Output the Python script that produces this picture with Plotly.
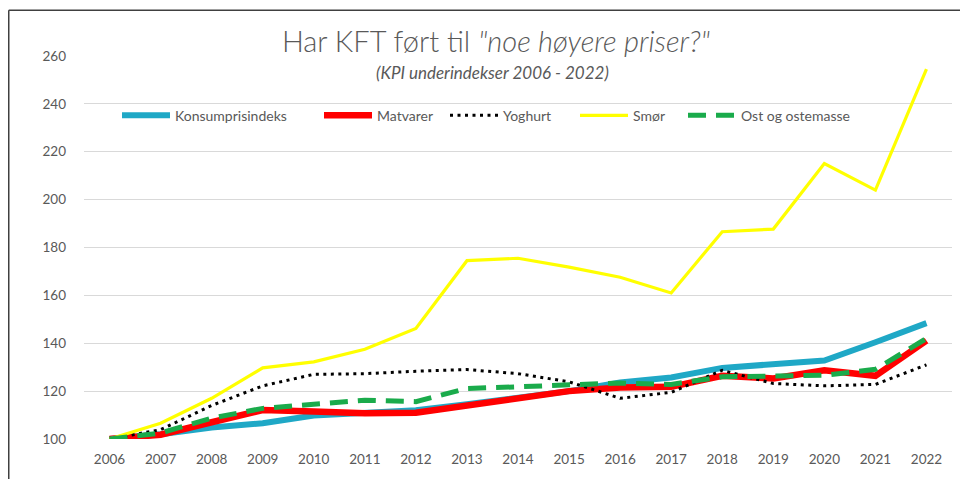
import plotly.graph_objects as go

years = list(range(2006, 2023))
tick_labels = [str(y) for y in years]

konsumprisindeks = [100, 102, 104.8, 106.6, 109.8, 110.6, 112, 114.5, 117, 120, 123.6, 125.7, 129.7, 131.5, 132.8, 140.4, 148.4]
matvarer = [100, 101.8, 107, 112.1, 111.5, 110.8, 111, 114, 117, 120, 121.5, 121.8, 126.4, 125.3, 128.7, 126.4, 141.1]
yoghurt = [100, 103.9, 114, 122.2, 127, 127.3, 128.3, 129, 127.3, 123.9, 117, 119.5, 128.7, 123.2, 122.2, 122.8, 131]
smor = [100, 106.6, 117, 129.7, 132.2, 137.5, 146.2, 174.5, 175.5, 171.8, 167.6, 161, 186.6, 187.7, 215.1, 204, 254.5]
ost = [100, 102.5, 108.7, 112.8, 114.5, 116.2, 115.6, 121.1, 121.8, 122.8, 123.4, 122.8, 126, 126.3, 126.6, 129.1, 142]

# page body has an 8px margin; figure coordinates = screen coordinates - 8
OFF = 8
W, H = 968 - OFF, 479 - OFF
ML, MT = 84 - OFF, 56 - OFF
MR = W - (952 - OFF)
MB = H - (441 - OFF)
PW, PH = W - ML - MR, H - MT - MB

def px_x(px):
    return (px - OFF - ML) / PW

def px_y(py):
    return (H + OFF - MB - py) / PH

series = [
    ("Konsumprisindeks", konsumprisindeks, dict(color="#1FA8C6", width=6), "legend", 122),
    ("Matvarer", matvarer, dict(color="#FF0000", width=6.5), "legend2", 324),
    ("Yoghurt", yoghurt, dict(color="#000000", width=3, dash="3px,4.5px"), "legend3", 450),
    ("Smør", smor, dict(color="#FFFF00", width=3.2), "legend4", 580),
    ("Ost og ostemasse", ost, dict(color="#1AAB4B", width=5, dash="18px,10px"), "legend5", 688),
]

fig = go.Figure()
legend_layouts = {}
for name, vals, line, leg, lx in series:
    fig.add_trace(go.Scatter(
        x=years, y=vals, mode="lines", name=name, line=line,
        legend=leg, cliponaxis=False,
    ))
    legend_layouts[leg] = dict(
        orientation="h", x=px_x(lx - 5), xanchor="left", y=px_y(116), yanchor="middle",
        bgcolor="rgba(0,0,0,0)", borderwidth=0, itemwidth=48,
        font=dict(family="Lato", size=14, color="#595959"),
    )

fig.update_layout(
    width=W, height=H,
    margin=dict(l=ML, r=MR, t=MT, b=MB),
    paper_bgcolor="white", plot_bgcolor="white",
    font=dict(family="Lato", color="#595959"),
    showlegend=True,
    title=dict(
        text='Har KFT ført til <i>"noe høyere priser?"</i>',
        x=(496 - OFF) / W, xanchor="center", xref="container",
        y=1 - (42 - OFF) / H, yanchor="middle", yref="container",
        font=dict(family="Lato", size=29, color="#595959", weight=300),
    ),
    xaxis=dict(
        range=[2005.5, 2022.5], tickmode="array", tickvals=years, ticktext=tick_labels,
        showgrid=False, zeroline=False, showline=False, ticks="",
        tickfont=dict(family="Lato", size=13.5, color="#595959"), ticklabelstandoff=10,
    ),
    yaxis=dict(
        range=[100, 260], dtick=20, showgrid=True, gridcolor="#D9D9D9", gridwidth=1,
        zeroline=False, showline=False, ticks="",
        tickfont=dict(family="Lato", size=13.5, color="#595959"), ticklabelstandoff=17,
    ),
    annotations=[dict(
        text="<i>(KPI underindekser 2006 - 2022)</i>",
        xref="paper", yref="paper", x=px_x(492), y=px_y(73),
        xanchor="center", yanchor="middle", showarrow=False,
        font=dict(family="Lato", size=17, color="#595959"),
    )],
    shapes=[
        dict(type="line", xref="paper", yref="paper", x0=px_x(8.75), x1=px_x(980), y0=px_y(10), y1=px_y(10),
             line=dict(color="#404040", width=1.5)),
        dict(type="line", xref="paper", yref="paper", x0=px_x(8.75), x1=px_x(8.75), y0=px_y(10), y1=px_y(490),
             line=dict(color="#404040", width=1.5)),
    ],
    **legend_layouts,
)

fig.write_html("out.html")
